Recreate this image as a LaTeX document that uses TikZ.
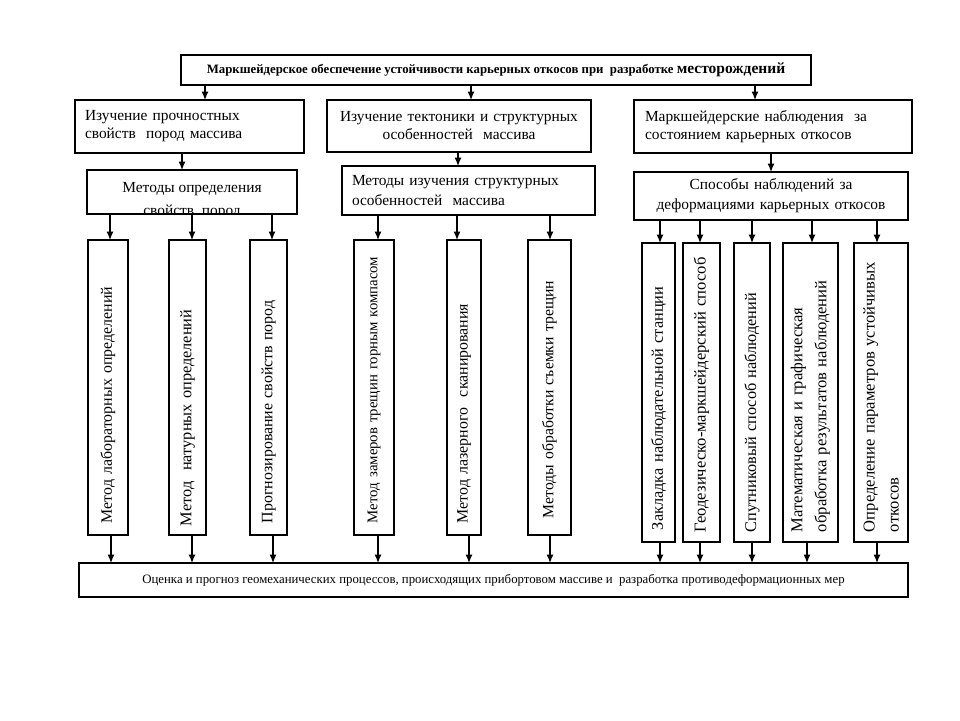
\documentclass[tikz,border=0pt]{standalone}
\usepackage{fontspec}
\setmainfont{Liberation Serif}
\usetikzlibrary{arrows.meta}
\tikzset{
  box/.style={draw, line width=1.2pt, inner sep=0pt, outer sep=0pt},
  hbox/.style={box, anchor=north west, font=\fontsize{15.4}{18}\selectfont},
  arr/.style={line width=1.1pt, -{Latex[length=8.5pt,width=7pt]}},
  vbox/.style={box, rotate=90, align=left, inner xsep=12pt},
  fs/.style={font=\fontsize{#1}{24}\selectfont},
}
\begin{document}
\begin{tikzpicture}[x=1pt,y=-1pt]
\useasboundingbox (0,0) rectangle (960,720);
\fill[white] (0,0) rectangle (960,720);
% top
\node[hbox, minimum width=630pt, minimum height=30pt, align=center] (top) at (181,55)
  {\bfseries\fontsize{12.8}{14}\selectfont Маркшейдерское обеспечение устойчивости карьерных откосов при~ разработке {\fontsize{15.5}{16}\selectfont месторождений}};
% level 2
\node[hbox, minimum width=229pt, minimum height=53pt, text width=209pt, inner xsep=10pt, align=left] (A) at (75,100)
  {Изучение прочностных\\свойств~ пород массива};
\node[hbox, minimum width=264pt, minimum height=52pt, text width=256pt, inner xsep=4pt, align=center] (B) at (327,100)
  {Изучение тектоники и структурных\\особенностей~ массива};
\node[hbox, minimum width=278pt, minimum height=53pt, text width=256pt, inner xsep=11pt, align=left] (C) at (634,100)
  {Маркшейдерские наблюдения~ за\\состоянием карьерных откосов};
% level 3
\node[hbox, minimum width=210pt, minimum height=44pt,
  path picture={\node[anchor=center, font=\fontsize{15.4}{23}\selectfont, align=center, inner sep=0pt] (Dt) at ([yshift=-8.5pt]path picture bounding box.center) {Методы определения\\свойств~ пород};}] (D) at (87,170) {};
\node[hbox, minimum width=243pt, minimum height=49pt, text width=233pt, inner xsep=10pt, align=left, font=\fontsize{15.4}{20}\selectfont] (E) at (342,166)
  {Методы изучения структурных\\особенностей~ массива};
\node[hbox, minimum width=274pt, minimum height=48pt, text width=264pt, inner xsep=5pt, align=center, font=\fontsize{15.4}{20}\selectfont] (F) at (634,172)
  {Способы наблюдений за\\деформациями карьерных откосов};
% vertical boxes
\node[vbox, fs=15.9, minimum width=295pt, minimum height=40pt, text width=271pt] (V1) at (108,387.5) {Метод лабораторных определений};
\node[vbox, fs=16.3, minimum width=295pt, minimum height=37pt, text width=277pt, inner xsep=9pt] (V2) at (187.5,387.5) {Метод~ натурных определений};
\node[vbox, fs=15.9, minimum width=295pt, minimum height=37pt, text width=271pt] (V3) at (268.5,387.5) {Прогнозирование свойств пород};
\node[vbox, fs=14.8, minimum width=295pt, minimum height=40pt, text width=271pt] (V4) at (374,387.5) {Метод замеров трещин горным компасом};
\node[vbox, fs=15.9, minimum width=295pt, minimum height=34pt, text width=271pt] (V5) at (464,387.5) {Метод лазерного~ сканирования};
\node[vbox, fs=15.7, minimum width=295pt, minimum height=43pt, text width=261pt, inner xsep=17pt] (V6) at (549.5,387.5) {Методы обработки съемки трещин};
\node[vbox, fs=16.3, minimum width=299pt, minimum height=33pt, text width=275pt] (V7) at (658.5,392.5) {Закладка наблюдательной станции};
\node[vbox, fs=16.6, minimum width=299pt, minimum height=37pt, text width=279pt, inner xsep=10pt] (V8) at (701.5,392.5) {Геодезическо-маркшейдерский способ};
\node[vbox, fs=16.3, minimum width=299pt, minimum height=36pt, text width=279pt, inner xsep=10pt] (V9) at (752,392.5) {Спутниковый способ наблюдений};
\node[vbox, fs=16.6, minimum width=299pt, minimum height=55pt, text width=279pt, inner xsep=10pt] (V10) at (810.5,392.5) {Математическая и графическая\\обработка результатов наблюдений};
\node[vbox, fs=16.6, minimum width=299pt, minimum height=54pt, text width=279pt, inner xsep=10pt] (V11) at (881,392.5) {Определение параметров устойчивых\\откосов};
% bottom
\node[hbox, minimum width=829pt, minimum height=34pt, align=center, font=\fontsize{12.8}{14}\selectfont] (bot) at (79,563)
  {Оценка и прогноз геомеханических процессов, происходящих прибортовом массиве и~ разработка противодеформационных мер};
% arrows top -> level 2
\draw[arr] (205,0 |- top.south) -- (205,0 |- A.north);
\draw[arr] (471,0 |- top.south) -- (471,0 |- B.north);
\draw[arr] (755,0 |- top.south) -- (755,0 |- C.north);
% level 2 -> level 3
\draw[arr] (182,0 |- A.south) -- (182,0 |- D.north);
\draw[arr] (458,0 |- B.south) -- (458,0 |- E.north);
\draw[arr] (771,0 |- C.south) -- (771,0 |- F.north);
% level 3 -> vertical
\draw[arr] (110,0 |- D.south) -- (110,0 |- V1.east);
\draw[arr] (192,0 |- D.south) -- (192,0 |- V2.east);
\draw[arr] (272,0 |- D.south) -- (272,0 |- V3.east);
\draw[arr] (378,0 |- E.south) -- (378,0 |- V4.east);
\draw[arr] (457,0 |- E.south) -- (457,0 |- V5.east);
\draw[arr] (550,0 |- E.south) -- (550,0 |- V6.east);
\draw[arr] (660,0 |- F.south) -- (660,0 |- V7.east);
\draw[arr] (700,0 |- F.south) -- (700,0 |- V8.east);
\draw[arr] (752,0 |- F.south) -- (752,0 |- V9.east);
\draw[arr] (812,0 |- F.south) -- (812,0 |- V10.east);
\draw[arr] (877,0 |- F.south) -- (877,0 |- V11.east);
% vertical -> bottom
\draw[arr] (111,0 |- V1.west) -- (111,0 |- bot.north);
\draw[arr] (192,0 |- V2.west) -- (192,0 |- bot.north);
\draw[arr] (273,0 |- V3.west) -- (273,0 |- bot.north);
\draw[arr] (378,0 |- V4.west) -- (378,0 |- bot.north);
\draw[arr] (469,0 |- V5.west) -- (469,0 |- bot.north);
\draw[arr] (550,0 |- V6.west) -- (550,0 |- bot.north);
\draw[arr] (660,0 |- V7.west) -- (660,0 |- bot.north);
\draw[arr] (700,0 |- V8.west) -- (700,0 |- bot.north);
\draw[arr] (752,0 |- V9.west) -- (752,0 |- bot.north);
\draw[arr] (807,0 |- V10.west) -- (807,0 |- bot.north);
\draw[arr] (877,0 |- V11.west) -- (877,0 |- bot.north);
\end{tikzpicture}
\end{document}
